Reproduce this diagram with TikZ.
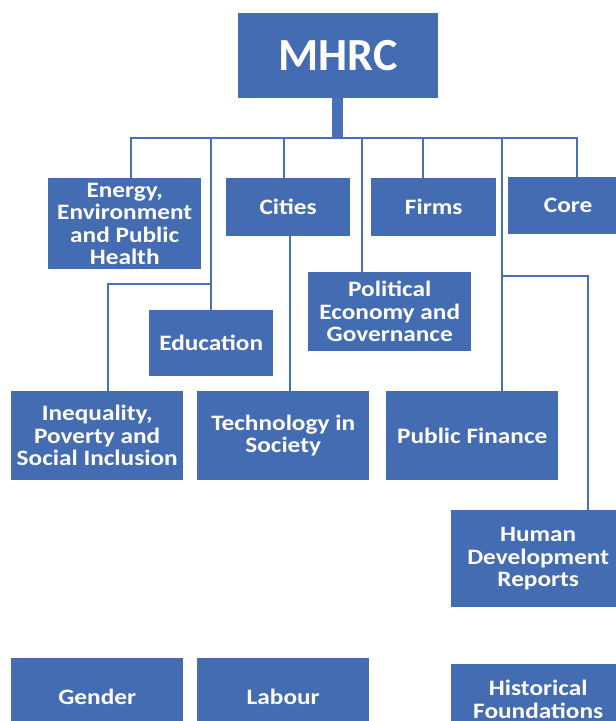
\documentclass[tikz,border=0pt]{standalone}
\usepackage{fontspec}
\setmainfont{Carlito}
\newfontfamily\widefont[FakeStretch=1.15]{Carlito}
\definecolor{boxblue}{RGB}{68,108,179}
\definecolor{lineblue}{RGB}{72,112,184}
\begin{document}
\begin{tikzpicture}[x=1pt,y=-1pt,
  topic/.style={fill=boxblue,text=white,font=\widefont\bfseries\fontsize{22}{22.5}\selectfont,
    align=center,inner sep=0pt,anchor=north west},
  conn/.style={draw=lineblue,line width=2.5pt}]
\useasboundingbox (0,0) rectangle (616,721);
\clip (0,0) rectangle (616,721);
% boxes: positioned by north west corner, sized explicitly
\node[topic,minimum width=200pt,minimum height=85pt,font=\bfseries\fontsize{46}{50}\selectfont] (mhrc) at (238,13) {MHRC};
\node[topic,minimum width=153pt,minimum height=91pt] (energy) at (48,178) {Energy,\\Environment\\and Public\\Health};
\node[topic,minimum width=124pt,minimum height=58pt] (cities) at (226,178) {Cities};
\node[topic,minimum width=125pt,minimum height=58pt] (firms) at (371,178) {Firms};
\node[topic,minimum width=120pt,minimum height=57pt] (core) at (508,177) {Core};
\node[topic,minimum width=163pt,minimum height=79pt] (polit) at (308,272) {Political\\Economy and\\Governance};
\node[topic,minimum width=124pt,minimum height=66pt] (educ) at (149,310) {Education};
\node[topic,minimum width=172pt,minimum height=89pt] (ineq) at (11,391) {Inequality,\\Poverty and\\Social Inclusion};
\node[topic,minimum width=172pt,minimum height=89pt] (tech) at (197,391) {Technology in\\Society};
\node[topic,minimum width=172pt,minimum height=89pt] (pubfin) at (386,391) {Public Finance};
\node[topic,minimum width=174pt,minimum height=97pt] (hdr) at (451,510) {Human\\Development\\Reports};
\node[topic,minimum width=172pt,minimum height=78pt] (gender) at (11,658) {Gender};
\node[topic,minimum width=172pt,minimum height=78pt] (labour) at (197,658) {Labour};
\node[topic,minimum width=174pt,minimum height=70pt] (hist) at (451,664) {Historical\\Foundations};
% connector points
\coordinate (stem) at (337.5,138);
\coordinate (bL) at (131,138);
\coordinate (bR) at (577,138);
\coordinate (dEdu) at (211,138);
\coordinate (dCit) at (284,138);
\coordinate (dPol) at (362,138);
\coordinate (dFir) at (423,138);
\coordinate (dPub) at (502,138);
\coordinate (jIneq) at (211,284);
\coordinate (kIneq) at (108,284);
\coordinate (jHdr) at (502,276);
\coordinate (kHdr) at (588,276);
\coordinate (cTech) at (290,236);
% stem
\draw[draw=lineblue,line width=11pt] (mhrc.south -| stem) -- (stem);
% bus and drops
\draw[conn] (bL |- energy.north) -- (bL) -- (bR) -- (bR |- core.north);
\draw[conn] (dEdu) -- (dEdu |- educ.north);
\draw[conn] (jIneq) -- (kIneq) -- (kIneq |- ineq.north);
\draw[conn] (dCit) -- (dCit |- cities.north);
\draw[conn] (dPol) -- (dPol |- polit.north);
\draw[conn] (dFir) -- (dFir |- firms.north);
\draw[conn] (dPub) -- (dPub |- pubfin.north);
\draw[conn] (jHdr) -- (kHdr) -- (kHdr |- hdr.north);
\draw[conn] (cTech |- cities.south) -- (cTech |- tech.north);
\end{tikzpicture}
\end{document}
